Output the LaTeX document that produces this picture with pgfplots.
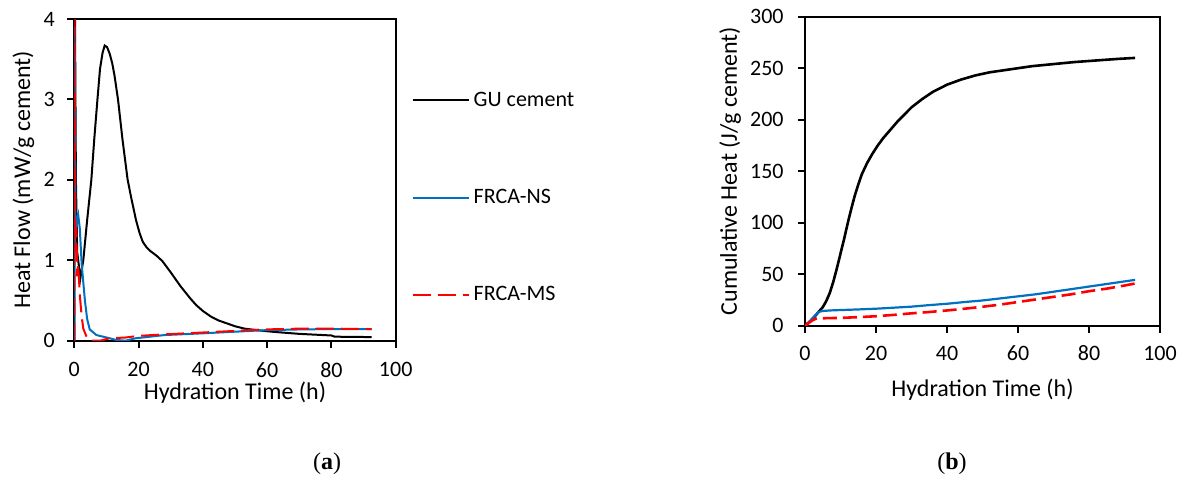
\documentclass[border=0pt]{standalone}
\usepackage{fontspec}
\setmainfont{Carlito}
\newfontfamily\serifb{Liberation Serif}
\usepackage{pgfplots}
\pgfplotsset{compat=1.18}
\definecolor{xblue}{RGB}{0,112,192}
\definecolor{xred}{RGB}{255,0,0}
\pgfplotsset{
  mystyle/.style={
    scale only axis, anchor=south west,
    xmin=0, xmax=100, xtick={0,20,...,100},
    axis line style={line width=1pt},
    every tick/.style={black, line width=1pt},
    tick align=outside, major tick length=3.5pt,
    xtick pos=left, ytick pos=left,
    /pgf/number format/assume math mode=true,
    ticklabel style={font=\fontsize{11}{13}\selectfont, inner sep=0.5pt},
    label style={font=\fontsize{12}{14}\selectfont, inner sep=0.5pt},
    clip=true,
  }
}
\begin{document}
\begin{tikzpicture}
\path[use as bounding box] (0,0) rectangle (592.5pt,239.5pt);
% ---------- (a) ----------
\begin{axis}[mystyle,
  at={(37.15pt,69.15pt)}, width=160.7pt, height=160.85pt,
  ymin=0, ymax=4, ytick={0,1,2,3,4},
  xticklabel style={anchor=center, yshift=-11pt},
  yticklabel style={anchor=east, xshift=-5.5pt},
  xlabel={Hydration Time (h)}, ylabel={Heat Flow (mW/g cement)},
  xlabel style={at={(axis description cs:0.5,-0.1616)}, anchor=center},
  ylabel style={at={(axis description cs:-0.1587,0.5)}, anchor=center},
  legend style={at={(axis description cs:1.030,0.80)}, anchor=north west,
    draw=none, fill=none, font=\fontsize{11}{13}\selectfont, row sep=36pt,
    /tikz/every even column/.append style={column sep=8pt}},
  legend cell align=left,
  legend image code/.code={\draw[#1] (0pt,0pt) -- (28pt,0pt);},
]
\addplot[black, line width=1pt] coordinates {
(0,0) (0.15,4.5) (0.5,2.0) (0.9,1.1) (1.9,0.78) (2.8,1.0) (4,1.5) (5.3,2.0)
(6.2,2.5) (7.2,3.0) (8.0,3.38) (8.8,3.58) (9.45,3.67) (10.2,3.65) (11,3.57)
(11.8,3.45) (12.5,3.3) (13.6,3.0) (14.3,2.75) (15,2.5) (16.6,2.0) (17.8,1.76)
(19.2,1.5) (20.3,1.34) (21.3,1.23) (22.5,1.16) (23.5,1.12) (25.5,1.06)
(27.4,0.99) (30,0.85) (33,0.68) (36.2,0.52) (38,0.44) (40,0.37) (42.5,0.3)
(45,0.25) (50,0.18) (53,0.15) (57,0.13) (62,0.11) (70,0.085) (80,0.065)
(81,0.05) (92.5,0.045)
};
\addlegendentry{GU cement}
\addplot[xblue, line width=1pt] coordinates {
(0,0) (0.1,3.9) (0.4,1.3) (0.8,1.5) (1.2,1.57) (1.7,1.4) (2.3,0.95) (3.3,0.5)
(4,0.27) (4.8,0.14) (6.9,0.07) (10,0.04) (13,0.01) (16,0.0) (19,0.03)
(28,0.07) (39,0.09) (49,0.11) (59,0.13) (70,0.14) (80,0.145) (92.5,0.145)
};
\addlegendentry{FRCA-NS}
\addplot[xred, line width=1pt, dash pattern=on 9pt off 3.5pt] coordinates {
(0,0) (0.05,4.5) (0.25,1.6) (0.45,1.1) (0.65,1.4) (0.9,0.8) (1.2,0.95)
(1.75,0.55) (2.3,0.3) (2.8,0.15) (3.8,0.05) (4.8,0.0) (8,0.0) (11,0.03)
(16,0.04) (20,0.06) (28.6,0.08) (39,0.1) (49,0.12) (59,0.14) (70,0.15)
(80,0.15) (92.5,0.145)
};
\addlegendentry{FRCA-MS}
\end{axis}
% ---------- (b) ----------
\begin{axis}[mystyle,
  at={(402.5pt,76.65pt)}, width=177.5pt, height=154.5pt,
  ymin=0, ymax=300, ytick={0,50,...,300},
  xticklabel style={anchor=center, yshift=-10.15pt},
  yticklabel style={anchor=east, xshift=-6.5pt},
  xlabel={Hydration Time (h)}, ylabel={Cumulative Heat (J/g cement)},
  xlabel style={at={(axis description cs:0.5,-0.208)}, anchor=center},
  ylabel style={at={(axis description cs:-0.211,0.5)}, anchor=center},
]
\addplot[black, line width=1.3pt] coordinates {
(0,0) (2,6) (3.75,13) (5,18) (6,24) (7,32) (8,43) (9,56) (10,70) (11,84)
(12,99) (13,113) (14,126) (15,137) (16,147) (17.5,158) (19,167) (20.5,175)
(22,182) (24,190) (26,198) (28,205) (30,212) (33,220) (36,227) (40,234)
(44,239) (48,243) (52,246) (58,249) (64,252) (70,254) (76,256) (82,257.5)
(88,259) (93,260)
};
\addplot[xblue, line width=1.1pt] coordinates {
(0,0) (1,3) (2,7) (3,10.5) (4,13.5) (5,14.3) (7,14.8) (10,15.2) (15,15.8)
(20,16.5) (25,17.5) (30,18.5) (35,20) (40,21.3) (45,23) (50,24.5) (55,26.5)
(60,28.5) (65,30.5) (70,33) (75,35.5) (80,38) (85,40.5) (90,43) (93,44.5)
};
\addplot[xred, line width=1.3pt, dash pattern=on 7pt off 3pt] coordinates {
(0,0) (1,2.5) (2,5) (3,6.8) (4,7.2) (6,7.3) (10,7.6) (15,8.3) (20,9.2)
(25,10.5) (30,12) (35,13.3) (40,14.8) (45,16.5) (50,18.4) (55,20.5) (60,23)
(65,25.5) (70,28) (75,30.5) (80,33.5) (85,36) (90,39) (93,41)
};
\end{axis}
\node[font=\serifb\fontsize{12}{14}\selectfont] at (163.5pt,7.5pt) {(\textbf{a})};
\node[font=\serifb\fontsize{12}{14}\selectfont] at (476pt,7.5pt) {(\textbf{b})};
\end{tikzpicture}
\end{document}
